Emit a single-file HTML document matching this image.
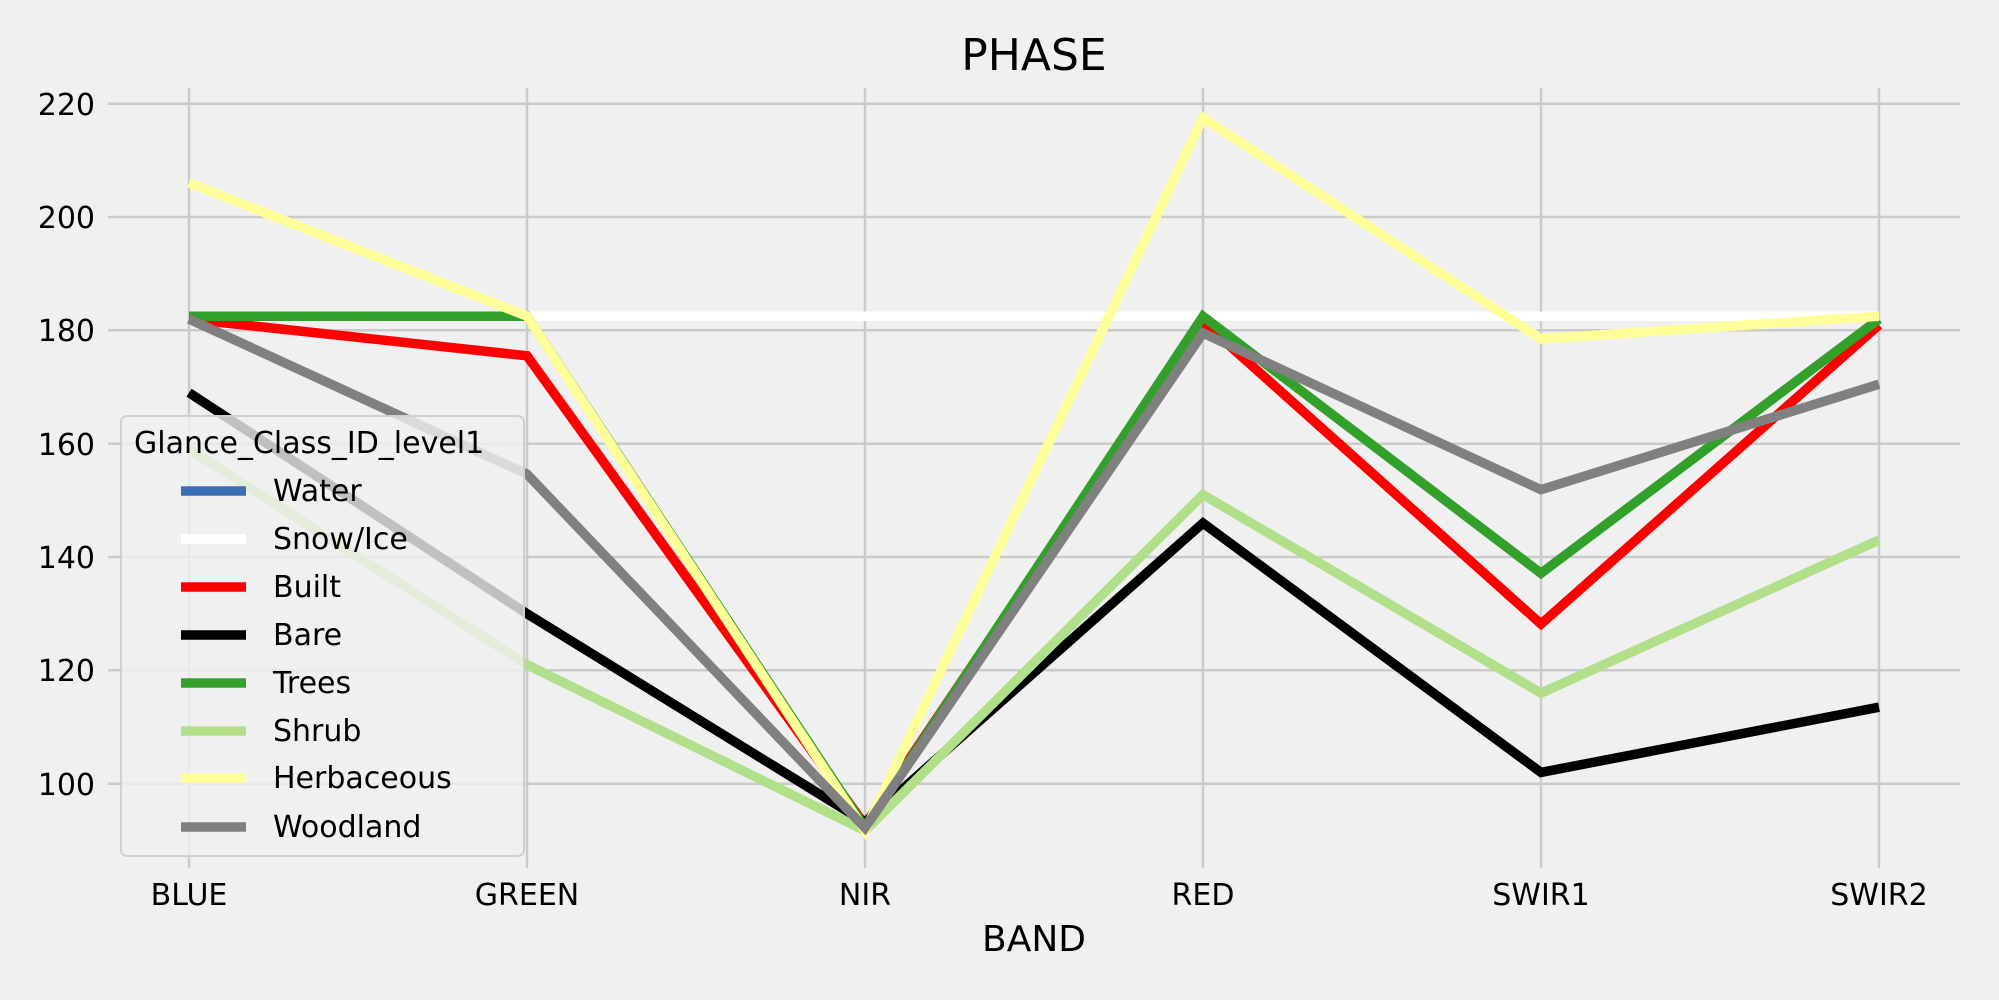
<!DOCTYPE html>
<html><head><meta charset="utf-8"><style>
html,body{margin:0;padding:0;background:#f0f0f0;}
svg{display:block;font-family:"DejaVu Sans","Liberation Sans",sans-serif;}
</style></head><body>
<svg width="1999" height="1000" viewBox="0 0 1999 1000" xmlns="http://www.w3.org/2000/svg">
<rect width="1999" height="1000" fill="#f0f0f0"/>
<g stroke="#cbcbcb" stroke-width="2.5">
<line x1="108" x2="1960" y1="103.7" y2="103.7"/>
<line x1="108" x2="1960" y1="217" y2="217"/>
<line x1="108" x2="1960" y1="330.3" y2="330.3"/>
<line x1="108" x2="1960" y1="443.7" y2="443.7"/>
<line x1="108" x2="1960" y1="557" y2="557"/>
<line x1="108" x2="1960" y1="670.3" y2="670.3"/>
<line x1="108" x2="1960" y1="783.7" y2="783.7"/>
<line x1="189" x2="189" y1="88" y2="868"/>
<line x1="527" x2="527" y1="88" y2="868"/>
<line x1="865" x2="865" y1="88" y2="868"/>
<line x1="1203" x2="1203" y1="88" y2="868"/>
<line x1="1541" x2="1541" y1="88" y2="868"/>
<line x1="1879" x2="1879" y1="88" y2="868"/>
</g>
<g font-size="30" fill="#000" text-anchor="end">
<text x="95" y="115">220</text>
<text x="95" y="228">200</text>
<text x="95" y="341">180</text>
<text x="95" y="455">160</text>
<text x="95" y="568">140</text>
<text x="95" y="681">120</text>
<text x="95" y="795">100</text>
</g>
<g font-size="30" fill="#000" text-anchor="middle">
<text x="189" y="905">BLUE</text>
<text x="527" y="905">GREEN</text>
<text x="865" y="905">NIR</text>
<text x="1203" y="905">RED</text>
<text x="1541" y="905">SWIR1</text>
<text x="1879" y="905">SWIR2</text>
<text x="1034" y="951" font-size="36">BAND</text>
<text x="1034" y="70" font-size="44">PHASE</text>
</g>
<g fill="none" stroke-width="9.5" stroke-linejoin="miter">
<polyline stroke="#3a6fb5" points="189,316.2 527,316.2 865,316.2 1203,316.2 1541,316.2 1879,316.2"/>
<polyline stroke="#ffffff" points="189,316.2 527,316.2 865,316.2 1203,316.2 1541,316.2 1879,316.2"/>
<polyline stroke="#ff0000" points="189,319 527,355.8 865,825 1203,322 1541,624 1879,324.9"/>
<polyline stroke="#000000" points="189,392.7 527,613.7 865,822.2 1203,523.1 1541,772.4 1879,707.2"/>
<polyline stroke="#33a02c" points="189,316.2 527,316.2 865,827.9 1203,316.2 1541,573.3 1879,319"/>
<polyline stroke="#b2df8a" points="189,449 527,664.7 865,830.7 1203,494.7 1541,693.1 1879,540"/>
<polyline stroke="#ffff99" points="189,182.9 527,316.2 865,830.7 1203,117.9 1541,338.9 1879,316.2"/>
<polyline stroke="#808080" points="189,319 527,474.1 865,827.9 1203,333.1 1541,489.7 1879,384.2"/>
</g>
<rect x="121" y="416" width="403" height="440" rx="6" fill="#f0f0f0" fill-opacity="0.8" stroke="#d0d0d0" stroke-width="2"/>
<g font-size="30" fill="#000">
<text x="134" y="453">Glance_Class_ID_level1</text>
<text x="273" y="501">Water</text>
<text x="273" y="549">Snow/Ice</text>
<text x="273" y="597">Built</text>
<text x="273" y="645">Bare</text>
<text x="273" y="693">Trees</text>
<text x="273" y="741">Shrub</text>
<text x="273" y="788">Herbaceous</text>
<text x="273" y="837">Woodland</text>
</g>
<g stroke-width="9.5">
<line x1="181" x2="246" y1="491" y2="491" stroke="#3a6fb5"/>
<line x1="181" x2="246" y1="539" y2="539" stroke="#ffffff"/>
<line x1="181" x2="246" y1="587" y2="587" stroke="#ff0000"/>
<line x1="181" x2="246" y1="635" y2="635" stroke="#000000"/>
<line x1="181" x2="246" y1="683" y2="683" stroke="#33a02c"/>
<line x1="181" x2="246" y1="731" y2="731" stroke="#b2df8a"/>
<line x1="181" x2="246" y1="778" y2="778" stroke="#ffff99"/>
<line x1="181" x2="246" y1="827" y2="827" stroke="#808080"/>
</g>
</svg>
</body></html>
